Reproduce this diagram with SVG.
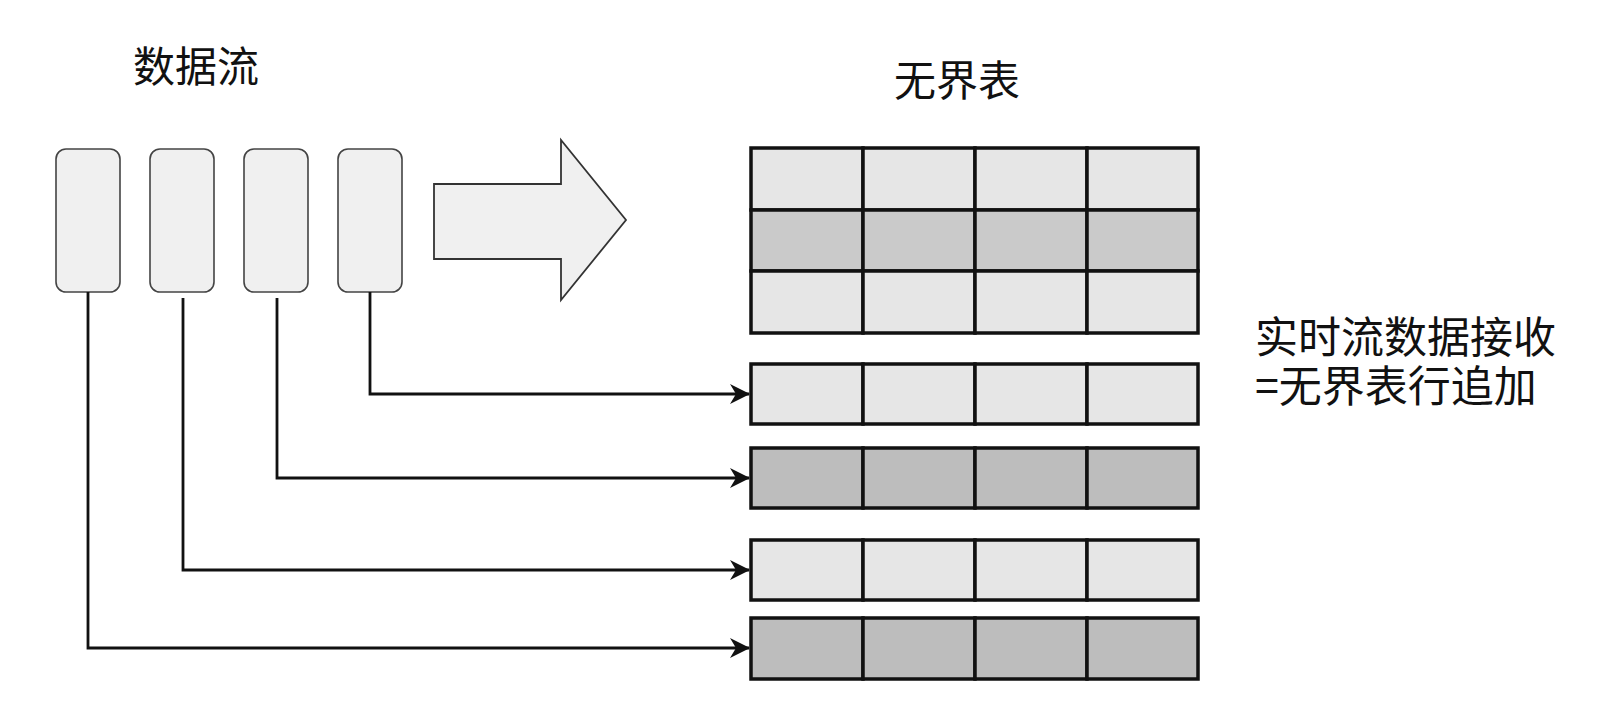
<svg xmlns="http://www.w3.org/2000/svg" width="1606" height="708" viewBox="0 0 1606 708">
<defs>
<style>
.t{font-family:"Noto Sans CJK SC","Noto Sans",sans-serif;fill:#111;}
.src{fill:#f0f0f0;stroke:#444;stroke-width:1.6;}
.lt{fill:#e6e6e6;stroke:#111;stroke-width:3.5;}
.dk{fill:#cacaca;stroke:#111;stroke-width:3.5;}
.dk2{fill:#bdbdbd;stroke:#111;stroke-width:3.5;}
.c{fill:none;stroke:#111;stroke-width:2.8;}
</style>
<marker id="ah" viewBox="0 0 20 20" refX="19" refY="10" markerWidth="20" markerHeight="20" markerUnits="userSpaceOnUse" orient="auto">
<path d="M0,0 L20,10 L0,20 L6,10 Z" fill="#111"/>
</marker>
</defs>
<rect width="1606" height="708" fill="#fff"/>
<text class="t" x="196" y="82" font-size="42" text-anchor="middle">数据流</text>
<text class="t" x="957" y="96" font-size="42" text-anchor="middle">无界表</text>
<g id="src1"><rect class="src" x="56" y="149" width="64" height="143" rx="10"/></g>
<g id="src2"><rect class="src" x="150" y="149" width="64" height="143" rx="10"/></g>
<g id="src3"><rect class="src" x="244" y="149" width="64" height="143" rx="10"/></g>
<g id="src4"><rect class="src" x="338" y="149" width="64" height="143" rx="10"/></g>
<g id="bigarrow"><path d="M434,184 L561,184 L561,140 L626,220 L561,300 L561,259 L434,259 Z" fill="#f0f0f0" stroke="#333" stroke-width="1.8"/></g>
<g id="table">
<rect class="lt" x="751" y="148" width="112" height="62"/><rect class="lt" x="863" y="148" width="112" height="62"/><rect class="lt" x="975" y="148" width="112" height="62"/><rect class="lt" x="1087" y="148" width="111" height="62"/>
<rect class="dk" x="751" y="210" width="112" height="61"/><rect class="dk" x="863" y="210" width="112" height="61"/><rect class="dk" x="975" y="210" width="112" height="61"/><rect class="dk" x="1087" y="210" width="111" height="61"/>
<rect class="lt" x="751" y="271" width="112" height="62"/><rect class="lt" x="863" y="271" width="112" height="62"/><rect class="lt" x="975" y="271" width="112" height="62"/><rect class="lt" x="1087" y="271" width="111" height="62"/>
</g>
<g id="row1">
<rect class="lt" x="751" y="364" width="112" height="60"/><rect class="lt" x="863" y="364" width="112" height="60"/><rect class="lt" x="975" y="364" width="112" height="60"/><rect class="lt" x="1087" y="364" width="111" height="60"/>
</g>
<g id="row2">
<rect class="dk2" x="751" y="448" width="112" height="60"/><rect class="dk2" x="863" y="448" width="112" height="60"/><rect class="dk2" x="975" y="448" width="112" height="60"/><rect class="dk2" x="1087" y="448" width="111" height="60"/>
</g>
<g id="row3">
<rect class="lt" x="751" y="540" width="112" height="60"/><rect class="lt" x="863" y="540" width="112" height="60"/><rect class="lt" x="975" y="540" width="112" height="60"/><rect class="lt" x="1087" y="540" width="111" height="60"/>
</g>
<g id="row4">
<rect class="dk2" x="751" y="618" width="112" height="61"/><rect class="dk2" x="863" y="618" width="112" height="61"/><rect class="dk2" x="975" y="618" width="112" height="61"/><rect class="dk2" x="1087" y="618" width="111" height="61"/>
</g>
<g id="connectors">
<path class="c" d="M370,292 L370,394 L749,394" marker-end="url(#ah)"/>
<path class="c" d="M277,298 L277,478 L749,478" marker-end="url(#ah)"/>
<path class="c" d="M183,298 L183,570 L749,570" marker-end="url(#ah)"/>
<path class="c" d="M88,292 L88,648 L749,648" marker-end="url(#ah)"/>
</g>
<g id="note">
<text class="t" font-size="43"><tspan x="1255" y="353">实时流数据接收</tspan><tspan x="1255" y="402">=无界表行追加</tspan></text>
</g>
</svg>
